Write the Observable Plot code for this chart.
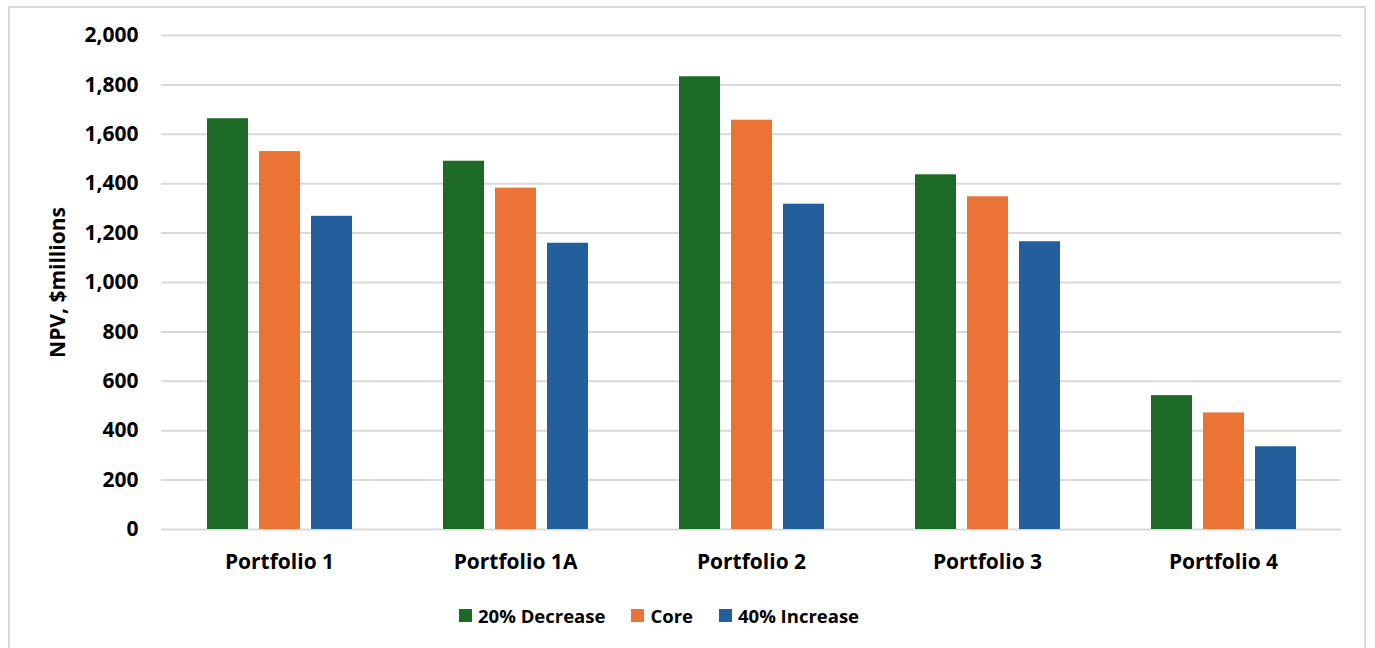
<!DOCTYPE html>
<html>
<head>
<meta charset="utf-8">
<script src="https://cdn.jsdelivr.net/npm/d3@7"></script>
<script src="https://cdn.jsdelivr.net/npm/@observablehq/plot@0.6"></script>
<style>
  html, body { margin: 0; padding: 0; background: #fff; }
  body { width: 1375px; height: 648px; overflow: hidden; position: relative; font-family: "Open Sans", sans-serif; }
  #frame { position: absolute; left: 8px; top: 6px; width: 1358px; height: 700px; border: 2px solid #d9d9d9; box-sizing: border-box; }
  #chart { position: absolute; left: 0; top: 0; }
  #legend { position: absolute; left: 459px; top: 603px; display: flex; align-items: center; font-size: 18.5px; font-weight: 700; color: #000; white-space: nowrap; }
  .item { display: flex; align-items: center; margin-right: 26px; }
  .sw { width: 13px; height: 13px; margin-right: 6px; }
</style>
</head>
<body>
<div id="frame"></div>
<div id="chart"></div>
<div id="legend"></div>
<script>
// Portfolios along the bottom, three price scenarios per portfolio
const portfolios = ["Portfolio 1", "Portfolio 1A", "Portfolio 2", "Portfolio 3", "Portfolio 4"];
const scenarios = ["20% Decrease", "Core", "40% Increase"];
const scenarioColors = ["#1c6a25", "#ea7335", "#225f9c"];

// NPV in $ millions, one array per scenario, in portfolio order
const decrease20 = [1663, 1491, 1833, 1436, 542];
const core = [1530, 1382, 1657, 1347, 472];
const increase40 = [1268, 1159, 1317, 1165, 335];

const yTicks = [0, 200, 400, 600, 800, 1000, 1200, 1400, 1600, 1800, 2000];

const seriesValues = [decrease20, core, increase40];
const rows = [];
portfolios.forEach((p, i) => {
  scenarios.forEach((s, j) => rows.push({portfolio: p, scenario: s, value: seriesValues[j][i]}));
});

const chart = Plot.plot({
  width: 1375,
  height: 580,
  marginLeft: 160,
  marginRight: 33,
  marginTop: 35,
  marginBottom: 51,
  style: {fontFamily: "'Open Sans', sans-serif", fontSize: "21px", fontWeight: "700", color: "#000", background: "transparent"},
  fx: {domain: portfolios, padding: 0},
  x: {domain: scenarios, paddingInner: 0.215, paddingOuter: 0.872, axis: null},
  y: {domain: [0, 2000]},
  color: {domain: scenarios, range: scenarioColors},
  marks: [
    Plot.gridY(yTicks, {stroke: "#d9d9d9", strokeOpacity: 1, strokeWidth: 2}),
    Plot.barY(rows, {fx: "portfolio", x: "scenario", y: "value", fill: "scenario"}),
    Plot.axisY(yTicks, {
      tickSize: 0, tickPadding: 23, tickFormat: d3.format(","),
      label: "NPV, $millions", labelAnchor: "center", labelOffset: 111, labelArrow: "none"
    }),
    Plot.axisFx({anchor: "bottom", tickSize: 0, tickPadding: 25, label: null})
  ]
});
document.getElementById("chart").appendChild(chart);

const legend = d3.select("#legend");
scenarios.forEach((s, i) => {
  const item = legend.append("div").attr("class", "item");
  item.append("div").attr("class", "sw").style("background", scenarioColors[i]);
  item.append("span").text(s);
});
</script>
</body>
</html>
